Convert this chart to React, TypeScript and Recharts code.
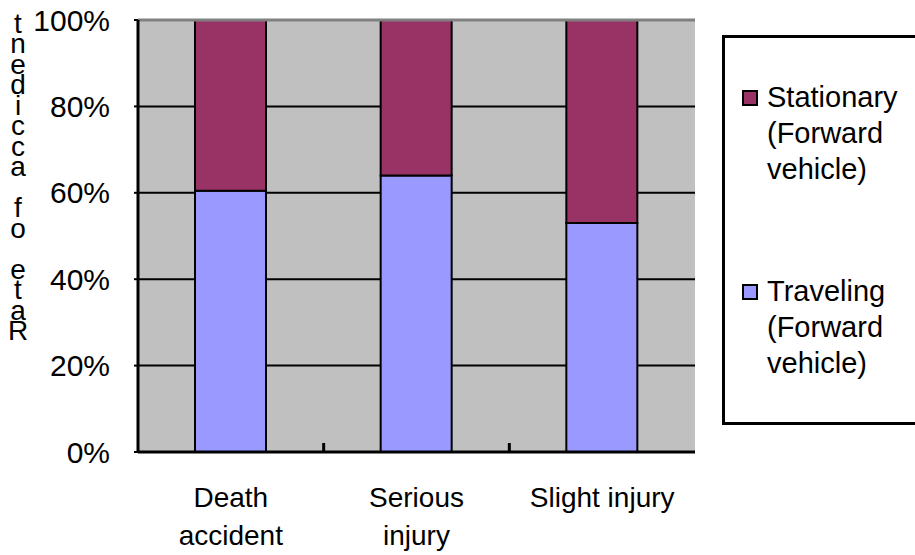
import React from "react";
import { BarChart, Bar, XAxis, YAxis, CartesianGrid, Legend, ReferenceLine } from "recharts";

const categories = ["Death accident", "Serious injury", "Slight injury"];
const categoryLines = [["Death", "accident"], ["Serious", "injury"], ["Slight injury"]];
const traveling = [60.5, 64, 53];
const stationary = [39.5, 36, 47];
const yTicks = [0, 20, 40, 60, 80, 100];
const yAxisTitle = "Rate of accident";
const seriesNames = { traveling: "Traveling (Forward vehicle)", stationary: "Stationary (Forward vehicle)" };
const legendOrder = ["Stationary (Forward vehicle)", "Traveling (Forward vehicle)"];
const legendLines: Record<string, string[]> = {
  "Stationary (Forward vehicle)": ["Stationary", "(Forward", "vehicle)"],
  "Traveling (Forward vehicle)": ["Traveling", "(Forward", "vehicle)"],
};

const data = categories.map((name, i) => ({
  name,
  traveling: traveling[i],
  stationary: stationary[i],
}));

const FONT = "'Liberation Sans', Arial, sans-serif";

const XTick = (props: any) => {
  const { x, y, index, payload, visibleTicksCount } = props;
  const lines = categoryLines[index] || [];
  const half = payload && payload.offset ? payload.offset : 0;
  return (
    <g>
      {index < (visibleTicksCount || categories.length) - 1 && half > 0 ? (
        <line x1={x + half} x2={x + half} y1={y} y2={y - 9} stroke="#000" strokeWidth={3} />
      ) : null}
      <text x={x} y={y + 55} textAnchor="middle" fontFamily={FONT} fontSize={28} fill="#000">
        {lines.map((l, i) => (
          <tspan key={i} x={x} dy={i === 0 ? 0 : 38}>{l}</tspan>
        ))}
      </text>
    </g>
  );
};

const YTitle = () => {
  const cx = 18;
  const bottom = 340;
  const chars = yAxisTitle.split("");
  return (
    <text fontFamily={FONT} fontSize={28} fill="#000" textAnchor="middle">
      {chars.map((c, i) => (
        <tspan key={i} x={cx} y={bottom - i * 20.5}>{c}</tspan>
      ))}
    </text>
  );
};

const renderLegend = (props: any) => {
  const payload = [...(props.payload || [])].sort(
    (a: any, b: any) => legendOrder.indexOf(a.value) - legendOrder.indexOf(b.value)
  );
  return (
    <div style={{ fontFamily: FONT, fontSize: 29, color: "#000" }}>
      {payload.map((p: any, i: number) => (
        <div key={i} style={{ position: "relative", marginTop: i === 0 ? 41 : 86, paddingLeft: 42, lineHeight: "36px" }}>
          <div style={{ position: "absolute", left: 17, top: 11, width: 12, height: 12, border: "2px solid #000", background: p.color }} />
          {(legendLines[p.value] || [p.value]).map((l, j) => (
            <div key={j} style={{ whiteSpace: "nowrap" }}>{l}</div>
          ))}
        </div>
      ))}
    </div>
  );
};

export default function App() {
  return (
    <div style={{ position: "absolute", left: 0, top: 0, width: 915, height: 555, background: "#fff" }}>
      <BarChart width={915} height={555} data={data} margin={{ top: 20, right: 220, bottom: 0, left: 0 }}>
        <CartesianGrid vertical={false} stroke="#000" strokeWidth={2} fill="#C0C0C0" fillOpacity={1} />
        <XAxis
          dataKey="name"
          axisLine={{ stroke: "#000", strokeWidth: 3 }}
          tickLine={false}
          tickSize={0}
          tickMargin={0}
          tick={<XTick />}
          height={103}
          interval={0}
        />
        <YAxis
          width={138}
          domain={[0, 100]}
          ticks={yTicks}
          tickFormatter={(v) => `${v}%`}
          axisLine={{ stroke: "#000", strokeWidth: 3 }}
          tickLine={{ stroke: "#000", strokeWidth: 2 }}
          tickSize={4}
          tickMargin={24}
          tick={{ fontSize: 30, fill: "#000", fontFamily: FONT }}
          label={<YTitle />}
          interval={0}
        />
        <YAxis
          yAxisId="r"
          orientation="right"
          width={0}
          domain={[0, 100]}
          tick={false}
          tickLine={false}
          axisLine={{ stroke: "#808080", strokeWidth: 3 }}
        />
        <ReferenceLine y={100} stroke="#808080" strokeWidth={3} />
        <Bar dataKey="traveling" name={seriesNames.traveling} stackId="a" fill="#9999FF" stroke="#000" strokeWidth={2} barSize={71} isAnimationActive={false} />
        <Bar dataKey="stationary" name={seriesNames.stationary} stackId="a" fill="#993366" stroke="#000" strokeWidth={2} barSize={71} isAnimationActive={false} />
        <Legend
          layout="horizontal"
          verticalAlign="middle"
          align="center"
          content={renderLegend}
          wrapperStyle={{ position: "absolute", left: 722, top: 35, width: 210, height: 390, border: "3px solid #000", boxSizing: "border-box", background: "#fff" }}
        />
      </BarChart>
    </div>
  );
}
